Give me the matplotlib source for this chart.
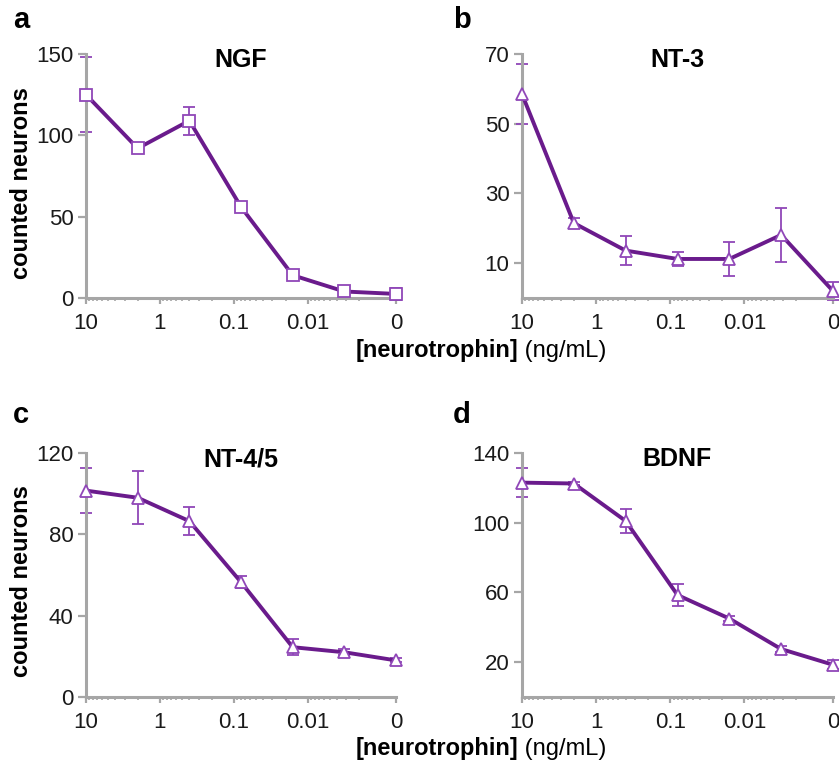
import matplotlib
matplotlib.use("Agg")
import matplotlib.pyplot as plt
import numpy as np

plt.rcParams['font.family'] = ['Liberation Sans', 'DejaVu Sans']

# ---------------- data ----------------
conc = [10, 2, 0.4, 0.08, 0.016, 0.0032, 0]          # ng/mL
ngf_mean   = [125, 92, 109, 56, 14, 4, 2.5]
ngf_err    = [23, 3, 8.5, 2, 2, 1.5, 3.5]
nt3_mean   = [58.5, 21.5, 13.6, 11.2, 11.2, 18.1, 2]
nt3_err    = [8.5, 1.5, 4.2, 2.1, 4.9, 7.8, 2.5]
nt45_mean  = [101.5, 98, 86.5, 56.5, 24.5, 22, 18]
nt45_err   = [11, 13, 7, 3, 4, 1.5, 1]
bdnf_mean  = [123, 122.5, 101, 58.5, 45, 27.5, 18.5]
bdnf_err   = [8.5, 1, 7, 6.5, 1.5, 1.5, 2.5]

panels = [
    dict(letter='a', title='NGF',    mean=ngf_mean,  err=ngf_err,  marker='s',
         ylim=(0, 150), yticks=[0, 50, 100, 150]),
    dict(letter='b', title='NT-3',   mean=nt3_mean,  err=nt3_err,  marker='^',
         ylim=(0, 70),  yticks=[10, 30, 50, 70]),
    dict(letter='c', title='NT-4/5', mean=nt45_mean, err=nt45_err, marker='^',
         ylim=(0, 120), yticks=[0, 40, 80, 120]),
    dict(letter='d', title='BDNF',   mean=bdnf_mean, err=bdnf_err, marker='^',
         ylim=(0, 140), yticks=[20, 60, 100, 140]),
]

xmajor_vals = [10, 1, 0.1, 0.01]
xmajor_labels = ['10', '1', '0.1', '0.01', '0']

# position used on the log axis for the zero-concentration control
zero_pos = 0.00064

W, H = 839, 765
fig = plt.figure(figsize=(W / 100, H / 100), dpi=100)

line_col = '#6A1B8C'
err_col = '#9047B8'
spine_col = '#A6A6A6'

boxes = {
    'a': (86, 54, 396, 298),
    'b': (522, 54, 833, 298),
    'c': (86, 453, 396, 697),
    'd': (522, 453, 833, 697),
}

for p in panels:
    x0, y0, x1, y1 = boxes[p['letter']]
    ax = fig.add_axes([x0 / W, 1 - y1 / H, (x1 - x0) / W, (y1 - y0) / H])
    xs = [c if c > 0 else zero_pos for c in conc]
    ax.set_xscale('log')
    ax.set_xlim(10, zero_pos)
    ax.set_ylim(*p['ylim'])

    ax.errorbar(xs, p['mean'], yerr=p['err'], fmt='none', ecolor=err_col,
                elinewidth=1.3, capsize=4.5, capthick=1.3, clip_on=False, zorder=2)
    ax.plot(xs, p['mean'], color=line_col, lw=2.8, clip_on=False, zorder=3)
    ax.plot(xs, p['mean'], linestyle='none', marker=p['marker'], ms=9,
            mfc='white', mec=err_col, mew=1.3, clip_on=False, zorder=4)

    # ticks
    ax.set_xticks(xmajor_vals + [zero_pos])
    ax.set_xticklabels(xmajor_labels)
    minors = [k * 10.0 ** n for n in range(-3, 1) for k in range(2, 10)]
    ax.set_xticks(minors, minor=True)
    ax.set_yticks(p['yticks'])
    ax.set_yticklabels([str(t) for t in p['yticks']])

    for s in ['top', 'right']:
        ax.spines[s].set_visible(False)
    for s in ['left', 'bottom']:
        ax.spines[s].set_color(spine_col)
        ax.spines[s].set_linewidth(2.2)
    ax.tick_params(axis='both', which='both', color=spine_col, direction='out',
                   labelsize=16, labelcolor='#1a1a1a')
    ax.tick_params(axis='x', which='major', length=4.5, width=1.6, pad=6)
    ax.tick_params(axis='x', which='minor', length=2.5, width=1.2)
    ax.tick_params(axis='y', which='major', length=6, width=1.6, pad=3)

    ax.text(0.5, 0.975, p['title'], transform=ax.transAxes, ha='center',
            va='center', fontsize=18, fontweight='bold')

letters = {'a': (13, 28), 'b': (453, 28), 'c': (13, 423), 'd': (453, 423)}
for L, (lx, ly) in letters.items():
    fig.text(lx / W, 1 - ly / H, L, fontsize=21, fontweight='bold',
             ha='left', va='baseline')

# y labels
for yc in [183, 581]:
    fig.text(22 / W, 1 - yc / H, 'counted neurons', rotation=90, fontsize=17,
             fontweight='bold', ha='center', va='center')

# x labels
for yb in [357, 755]:
    fig.text(518 / W, 1 - yb / H, '[neurotrophin]', fontsize=17,
             fontweight='bold', ha='right', va='baseline')
    fig.text(518 / W, 1 - yb / H, ' (ng/mL)', fontsize=17,
             ha='left', va='baseline')

fig.savefig('out.png', dpi=100)
